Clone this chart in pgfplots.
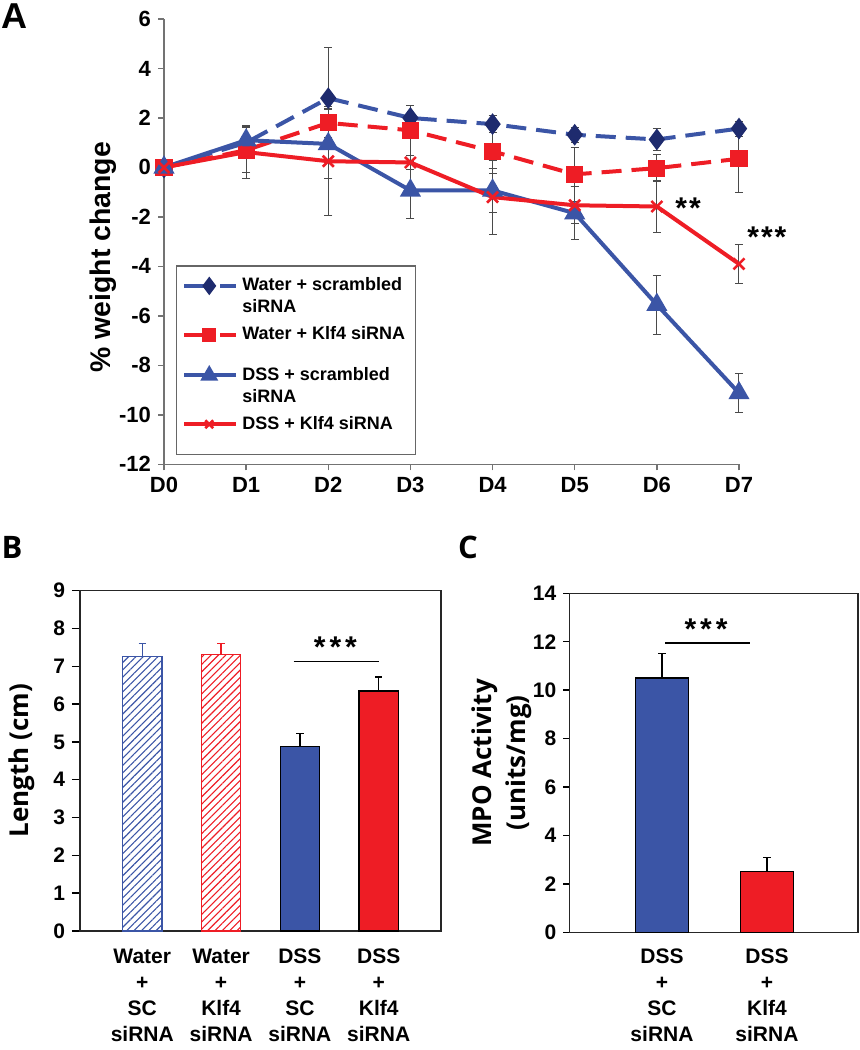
\documentclass[border=0pt]{standalone}
\usepackage{fontspec}
\setmainfont{Liberation Sans}
\newfontfamily\osans{Open Sans}
\usepackage{pgfplots}
\pgfplotsset{compat=1.18}
\usetikzlibrary{patterns.meta}
\definecolor{cblue}{HTML}{3B55A6}
\definecolor{cnavy}{HTML}{1E2B6E}
\definecolor{cred}{HTML}{EE1D25}
\definecolor{cerr}{HTML}{4A4A4A}
\pgfplotsset{
  legimg/.style n args={2}{legend image code/.code={\draw[mark repeat=2, mark phase=2, ##1, mark size=#1, yshift=#2] plot coordinates {(0pt,0pt) (12.5pt,0pt) (26pt,0pt)};}},
  legimgdash/.style n args={2}{legend image code/.code={\draw[mark repeat=2, mark phase=2, ##1, mark size=#1, yshift=#2, dash pattern=on 10pt off 8pt] plot coordinates {(0pt,0pt) (12.5pt,0pt) (26pt,0pt)};}},
}
\begin{document}
\begin{tikzpicture}
\useasboundingbox (0,0) rectangle (430pt,525pt);
\node[font=\fontsize{18}{20}\selectfont\bfseries] at (7pt,517pt) {A};
\node[font=\osans\fontsize{15.5}{18}\selectfont\bfseries] at (6pt,251.5pt) {B};
\node[font=\osans\fontsize{15.5}{18}\selectfont\bfseries] at (234pt,251.5pt) {C};

% ---------------- Panel A
\begin{axis}[
  at={(82pt,292.85pt)}, anchor=south west,
  scale only axis, width=287.5pt, height=222.65pt,
  xmin=0, xmax=7, ymin=-12, ymax=6,
  axis lines=left, axis line style={-, black!55, line width=0.7pt},
  tick align=outside, major tick length=3pt,
  tick style={black!55, line width=0.7pt},
  xtick={0,...,7}, xticklabels={D0,D1,D2,D3,D4,D5,D6,D7},
  ytick={-12,-10,...,6},
  ticklabel style={font=\fontsize{11}{13}\selectfont\bfseries},
  /pgf/number format/assume math mode=true,
  ylabel={\% weight change},
  ylabel style={font=\fontsize{14.2}{17}\selectfont\bfseries, at={(axis description cs:-0.105,0.465)}, anchor=center},
  clip=false,
  legend style={at={(0.0203,0.0198)}, anchor=south west, draw=black!60, line width=0.6pt,
     font=\fontsize{9}{11}\selectfont\bfseries, cells={align=left}, row sep=1.4pt,
     inner xsep=3pt, inner ysep=4pt},
  legend cell align=left,
]
\addplot[cblue, line width=2pt, dash pattern=on 10pt off 5pt, mark=diamond*, mark size=3.8pt,
  mark options={solid, fill=cnavy, draw=cnavy}, legimgdash={3pt}{5.5pt},
  error bars/.cd, y dir=both, y explicit,
  error bar style={cerr, line width=0.5pt, solid},
  error mark options={rotate=90, mark size=2pt, cerr, line width=0.5pt, solid}]
 coordinates {(0,0) +- (0,0) (1,1.0) +- (0,0.65) (2,2.8) +- (0,2.05) (3,2.0) +- (0,0.5)
   (4,1.75) +- (0,0.35) (5,1.32) +- (0,0.3) (6,1.13) +- (0,0.45) (7,1.57) +- (0,0.3)};
\addlegendentry{Water + scrambled\\siRNA}
\addplot[cred, line width=2pt, dash pattern=on 10pt off 5pt, mark=square*, mark size=3.3pt,
  mark options={solid, fill=cred, draw=cred}, legimgdash={2.5pt}{0pt},
  error bars/.cd, y dir=both, y explicit,
  error bar style={cerr, line width=0.5pt, solid},
  error mark options={rotate=90, mark size=2pt, cerr, line width=0.5pt, solid}]
 coordinates {(0,0) +- (0,0) (1,0.7) +- (0,0.9) (2,1.8) +- (0,0.6) (3,1.5) +- (0,1.0)
   (4,0.65) +- (0,0.9) (5,-0.28) +- (0,1.1) (6,-0.03) +- (0,0.55) (7,0.35) +- (0,1.37)};
\addlegendentry{Water + Klf4 siRNA}
\addlegendimage{empty legend}
\addlegendentry{}
\addplot[cblue, line width=2pt, mark=triangle*, mark size=4.1pt,
  mark options={solid, fill=cblue, draw=cblue}, legimg={3.2pt}{5.5pt},
  error bars/.cd, y dir=both, y explicit,
  error bar style={cerr, line width=0.5pt, solid},
  error mark options={rotate=90, mark size=2pt, cerr, line width=0.5pt, solid}]
 coordinates {(0,0) +- (0,0) (1,1.1) +- (0,0.6) (2,0.95) +- (0,1.4) (3,-0.93) +- (0,1.15)
   (4,-0.93) +- (0,0.9) (5,-1.85) +- (0,1.07) (6,-5.55) +- (0,1.2) (7,-9.12) +- (0,0.77)};
\addlegendentry{DSS + scrambled\\siRNA}
\addplot[cred, line width=2pt, mark=x, mark size=3.9pt,
  mark options={solid, line width=1.3pt, draw=cred}, legimg={2.8pt}{0pt},
  error bars/.cd, y dir=both, y explicit,
  error bar style={cerr, line width=0.5pt, solid},
  error mark options={rotate=90, mark size=2pt, cerr, line width=0.5pt, solid}]
 coordinates {(0,0) +- (0,0) (1,0.62) +- (0,1.05) (2,0.25) +- (0,2.2) (3,0.2) +- (0,0.3)
   (4,-1.2) +- (0,1.5) (5,-1.53) +- (0,0.75) (6,-1.58) +- (0,1.05) (7,-3.9) +- (0,0.78)};
\addlegendentry{DSS + Klf4 siRNA}
\addlegendimage{empty legend}
\addlegendentry[inner ysep=1.2pt]{}
\node[font=\fontsize{15}{17}\selectfont\bfseries] at (axis cs:6.38,-1.65) {*\kern1pt*};
\node[font=\fontsize{15}{17}\selectfont\bfseries] at (axis cs:7.34,-2.8) {*\kern1pt*\kern1pt*};
\end{axis}

% ---------------- Panel B
\begin{axis}[
  at={(40pt,59.5pt)}, anchor=south west,
  scale only axis, width=180.5pt, height=170.15pt,
  xmin=-0.79, xmax=3.79, ymin=0, ymax=9,
  xtick={0,1,2,3},
  xticklabels={{Water\\+\\SC\\siRNA},{Water\\+\\Klf4\\siRNA},{DSS\\+\\SC\\siRNA},{DSS\\+\\Klf4\\siRNA}},
  xticklabel style={align=center, font=\fontsize{10.5}{13}\selectfont\bfseries, yshift=-1.5pt},
  xtick style={draw=none},
  ytick={0,...,9}, ytick pos=left, tick align=outside, major tick length=4pt,
  ytick style={black, line width=0.7pt},
  yticklabel style={font=\fontsize{10.5}{12}\selectfont\bfseries},
  /pgf/number format/assume math mode=true,
  axis line style={black!85, line width=0.7pt},
  ylabel={Length (cm)},
  ylabel style={font=\osans\fontsize{13}{15}\selectfont\bfseries, at={(axis description cs:-0.161,0.5)}, anchor=center},
  clip=false,
]
\addplot[ybar, bar width=0.5, bar shift=0pt, draw=cblue, line width=0.6pt,
  pattern={Lines[angle=45, distance=2.6pt, line width=0.55pt]}, pattern color=cblue,
  error bars/.cd, y dir=plus, y explicit,
  error bar style={cblue, line width=0.6pt},
  error mark options={rotate=90, mark size=1.8pt, cblue, line width=0.6pt}]
 coordinates {(0,7.25) +- (0,0.35)};
\addplot[ybar, bar width=0.5, bar shift=0pt, draw=cred, line width=0.6pt,
  pattern={Lines[angle=45, distance=2.6pt, line width=0.55pt]}, pattern color=cred,
  error bars/.cd, y dir=plus, y explicit,
  error bar style={cred, line width=0.6pt},
  error mark options={rotate=90, mark size=1.8pt, cred, line width=0.6pt}]
 coordinates {(1,7.32) +- (0,0.28)};
\addplot[ybar, bar width=0.5, bar shift=0pt, draw=black, line width=0.6pt, fill=cblue,
  error bars/.cd, y dir=plus, y explicit,
  error bar style={black, line width=0.6pt},
  error mark options={rotate=90, mark size=1.8pt, black, line width=0.6pt}]
 coordinates {(2,4.87) +- (0,0.35)};
\addplot[ybar, bar width=0.5, bar shift=0pt, draw=black, line width=0.6pt, fill=cred,
  error bars/.cd, y dir=plus, y explicit,
  error bar style={black, line width=0.6pt},
  error mark options={rotate=90, mark size=1.8pt, black, line width=0.6pt}]
 coordinates {(3,6.35) +- (0,0.37)};
\draw[line width=0.8pt] (axis cs:1.92,7.13) -- (axis cs:3.0,7.13);
\node[font=\fontsize{15}{17}\selectfont\bfseries] at (axis cs:2.45,7.5) {*\kern2pt*\kern2pt*};
\end{axis}

% ---------------- Panel C
\begin{axis}[
  at={(284.65pt,58.85pt)}, anchor=south west,
  scale only axis, width=144.35pt, height=169.5pt,
  xmin=-0.883, xmax=1.867, ymin=0, ymax=14,
  xtick={0,1},
  xticklabels={{DSS\\+\\SC\\siRNA},{DSS\\+\\Klf4\\siRNA}},
  xticklabel style={align=center, font=\fontsize{10.5}{13}\selectfont\bfseries, yshift=-1.5pt},
  xtick style={draw=none},
  ytick={0,2,...,14}, ytick pos=left, tick align=outside, major tick length=3pt,
  ytick style={black, line width=0.7pt},
  yticklabel style={font=\fontsize{10.5}{12}\selectfont\bfseries},
  /pgf/number format/assume math mode=true,
  axis line style={black!85, line width=0.7pt},
  ylabel={MPO Activity\\(units/mg)},
  ylabel style={font=\osans\fontsize{13}{17}\selectfont\bfseries, align=center, at={(axis description cs:-0.233,0.5)}, anchor=center},
  clip=false,
]
\addplot[ybar, bar width=0.5, bar shift=0pt, draw=black, line width=0.6pt, fill=cblue,
  error bars/.cd, y dir=plus, y explicit,
  error bar style={black, line width=0.6pt},
  error mark options={rotate=90, mark size=1.8pt, black, line width=0.6pt}]
 coordinates {(0,10.5) +- (0,1.0)};
\addplot[ybar, bar width=0.5, bar shift=0pt, draw=black, line width=0.6pt, fill=cred,
  error bars/.cd, y dir=plus, y explicit,
  error bar style={black, line width=0.6pt},
  error mark options={rotate=90, mark size=1.8pt, black, line width=0.6pt}]
 coordinates {(1,2.52) +- (0,0.58)};
\draw[line width=0.8pt] (axis cs:0.03,11.94) -- (axis cs:0.84,11.94);
\node[font=\fontsize{15}{17}\selectfont\bfseries] at (axis cs:0.42,12.5) {*\kern2pt*\kern2pt*};
\end{axis}
\end{tikzpicture}
\end{document}
